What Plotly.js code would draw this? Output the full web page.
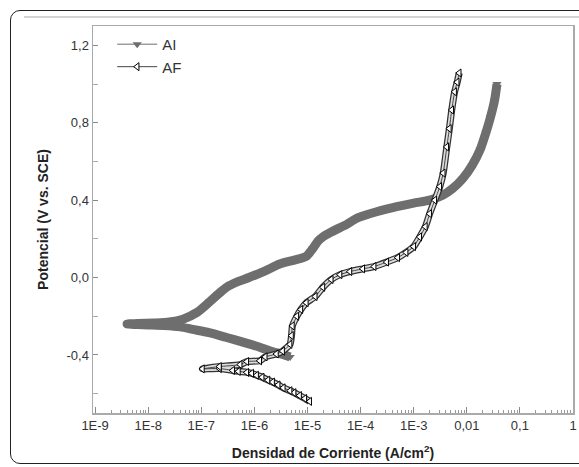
<!DOCTYPE html>
<html>
<head>
<meta charset="utf-8">
<script src="https://cdn.plot.ly/plotly-3.0.1.min.js"></script>
<style>
  html, body { margin: 0; padding: 0; background: #fff; width: 579px; height: 467px; overflow: hidden; }
  #frame { position: absolute; left: 10px; top: 10px; width: 620px; height: 454px; border: 1.3px solid #222; border-radius: 10px; box-sizing: border-box; }
  #rule { position: absolute; left: 24px; top: 16px; width: 560px; height: 2px; background: #d4d4d4; }
  #chart { position: absolute; left: 0; top: 0; width: 579px; height: 467px; }
</style>
</head>
<body>
<div id="frame"></div>
<div id="rule"></div>
<div id="chart"></div>
<script>
// ---- data (current density A/cm2, potential V vs SCE) ----
const aiCurrent = [4.7e-6, 3.4e-6, 2.0e-6, 1.26e-6, 6.3e-7, 3.0e-7, 1.4e-7, 6.9e-8, 4.0e-8, 2.0e-8, 1.0e-8, 6.3e-9, 4.0e-9,
  6.3e-9, 1.26e-8, 2.5e-8, 4.5e-8, 8.3e-8, 1.45e-7, 2.2e-7, 3.0e-7, 5.0e-7, 7.9e-7, 1.6e-6, 3.0e-6, 5.6e-6, 9.5e-6,
  1.26e-5, 1.6e-5, 1.95e-5, 2.8e-5, 4.1e-5, 5.5e-5, 8.3e-5, 1.1e-4, 2.0e-4, 4.8e-4, 1.0e-3, 2.0e-3, 3.5e-3, 5.4e-3,
  8.3e-3, 1.26e-2, 1.78e-2, 2.3e-2, 2.8e-2, 3.3e-2, 3.7e-2];
const aiPotential = [-0.41, -0.397, -0.38, -0.36, -0.335, -0.31, -0.285, -0.268, -0.255, -0.248, -0.245, -0.243, -0.24,
  -0.238, -0.235, -0.23, -0.215, -0.18, -0.124, -0.08, -0.05, -0.02, 0.0, 0.035, 0.07, 0.09, 0.11,
  0.15, 0.19, 0.21, 0.235, 0.258, 0.275, 0.305, 0.318, 0.34, 0.366, 0.385, 0.40, 0.425, 0.46,
  0.51, 0.58, 0.66, 0.75, 0.83, 0.91, 1.0];

const afCurrent = [1.1e-5, 8.9e-6, 7.1e-6, 5.6e-6, 4.7e-6, 3.5e-6, 2.8e-6, 2.2e-6, 1.8e-6, 1.4e-6, 1.1e-6, 8.9e-7, 7.2e-7, 5.0e-7, 3.9e-7, 2.2e-7, 1.05e-7,
  2.2e-7, 5.4e-7, 7.2e-7, 1.26e-6, 1.6e-6, 2.6e-6, 3.4e-6, 4.7e-6, 5.0e-6, 5.2e-6, 6.3e-6, 7.5e-6, 9.5e-6, 1.4e-5, 1.95e-5, 2.8e-5, 4.1e-5,
  6.3e-5, 1.1e-4, 1.8e-4, 3.1e-4, 5.0e-4, 7.2e-4, 1.0e-3, 1.3e-3, 1.66e-3, 2.0e-3, 2.5e-3, 3.1e-3, 3.6e-3, 4.2e-3, 4.7e-3, 5.2e-3, 5.9e-3, 6.6e-3, 7.2e-3];
const afPotential = [-0.64, -0.625, -0.61, -0.595, -0.585, -0.57, -0.555, -0.54, -0.53, -0.515, -0.505, -0.495, -0.49, -0.485, -0.48, -0.47, -0.472,
  -0.46, -0.45, -0.434, -0.43, -0.41, -0.395, -0.38, -0.345, -0.30, -0.25, -0.20, -0.165, -0.13, -0.098, -0.05, -0.01, 0.015,
  0.031, 0.045, 0.057, 0.08, 0.103, 0.13, 0.16, 0.21, 0.263, 0.33, 0.40, 0.47, 0.54, 0.675, 0.77, 0.866, 0.96, 1.01, 1.057];

const xTickVals = [1e-9, 1e-8, 1e-7, 1e-6, 1e-5, 1e-4, 1e-3, 1e-2, 1e-1, 1];
const xTickText = ['1E-9', '1E-8', '1E-7', '1E-6', '1E-5', '1E-4', '1E-3', '0,01', '0,1', '1'];
const yTickVals = [-0.4, 0.0, 0.4, 0.8, 1.2];
const yTickText = ['-0,4', '0,0', '0,4', '0,8', '1,2'];
const yMinorVals = [-0.6, -0.2, 0.2, 0.6, 1.0];

const gray = '#6e6e6e';
const traces = [
  { x: aiCurrent, y: aiPotential, type: 'scatter', mode: 'lines', showlegend: false, hoverinfo: 'skip',
    line: { color: gray, width: 9, shape: 'spline', smoothing: 0.7 } },
  { x: aiCurrent, y: aiPotential, type: 'scatter', mode: 'lines+markers', name: 'AI',
    line: { color: gray, width: 1, shape: 'spline', smoothing: 0.7 },
    marker: { symbol: 'triangle-down', size: 8, color: gray } },
  { x: afCurrent, y: afPotential, type: 'scatter', mode: 'lines', showlegend: false, hoverinfo: 'skip',
    line: { color: '#333', width: 7, shape: 'spline', smoothing: 0.5 } },
  { x: afCurrent, y: afPotential, type: 'scatter', mode: 'lines', showlegend: false, hoverinfo: 'skip',
    line: { color: '#dcdcdc', width: 4.5, shape: 'spline', smoothing: 0.5 } },
  { x: afCurrent, y: afPotential, type: 'scatter', mode: 'lines+markers', name: 'AF',
    line: { color: '#444', width: 1, shape: 'spline', smoothing: 0.5 },
    marker: { symbol: 'triangle-left', size: 7, color: '#fff', line: { color: '#000', width: 1 } } }
];

const layout = {
  width: 579, height: 467,
  margin: { l: 93, r: 6, t: 26, b: 54 },
  paper_bgcolor: 'rgba(0,0,0,0)', plot_bgcolor: 'rgba(0,0,0,0)',
  font: { family: 'Liberation Sans, Arial, sans-serif', color: '#333', size: 12 },
  showlegend: true,
  legend: { x: 0.04, y: 0.995, xanchor: 'left', yanchor: 'top', bgcolor: 'rgba(0,0,0,0)',
    font: { size: 15, color: '#333' }, tracegroupgap: 0, itemwidth: 40 },
  xaxis: {
    type: 'log', range: [-9.04, 0.0],
    tickmode: 'array', tickvals: xTickVals, ticktext: xTickText,
    ticks: 'inside', ticklen: 6, tickcolor: '#888', tickwidth: 1,
    minor: { ticks: 'inside', ticklen: 3, tickcolor: '#999', dtick: 'D1' },
    showgrid: false, zeroline: false,
    showline: true, linecolor: '#aaa', linewidth: 1.5, mirror: true,
    tickfont: { size: 13, color: '#333' },
    title: { text: '<b>Densidad de Corriente (A/cm<sup>2</sup>)</b>', font: { size: 14, color: '#222' }, standoff: 16 }
  },
  yaxis: {
    range: [-0.7, 1.3],
    tickmode: 'array', tickvals: yTickVals, ticktext: yTickText,
    ticks: 'inside', ticklen: 5, tickcolor: '#888', tickwidth: 1,
    minor: { tickmode: 'array', tickvals: yMinorVals, ticks: 'inside', ticklen: 5, tickcolor: '#aaa' },
    showgrid: false, zeroline: false,
    showline: true, linecolor: '#aaa', linewidth: 1.5, mirror: true,
    tickfont: { size: 13, color: '#333' },
    title: { text: '<b>Potencial (V vs. SCE)</b>', font: { size: 14, color: '#222' }, standoff: 14 }
  }
};

Plotly.newPlot('chart', traces, layout, { displayModeBar: false, staticPlot: true });
</script>
</body>
</html>
